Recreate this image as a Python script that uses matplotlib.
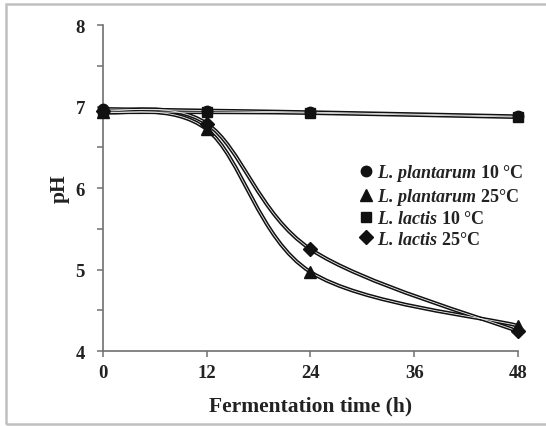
import numpy as np
import matplotlib
matplotlib.use("Agg")
import matplotlib.pyplot as plt
from matplotlib.path import Path
from matplotlib.patches import PathPatch, Rectangle
from matplotlib.lines import Line2D

plt.rcParams["font.family"] = ["Liberation Serif", "DejaVu Serif"]
plt.rcParams["mathtext.fontset"] = "custom"
plt.rcParams["mathtext.bfit"] = "Liberation Serif:italic:bold"
plt.rcParams["mathtext.it"] = "Liberation Serif:italic:bold"
plt.rcParams["mathtext.rm"] = "Liberation Serif:bold"

# fermentation time (h) and pH for each culture
hours = [0, 12, 24, 48]
plant_10 = [6.97, 6.95, 6.93, 6.88]
plant_25 = [6.93, 6.72, 4.97, 4.31]
lactis_10 = [6.93, 6.93, 6.92, 6.87]
lactis_25 = [6.95, 6.79, 5.25, 4.24]

series = [
    (plant_10, "o", r"$\mathbfit{L.}\,\mathbfit{plantarum}$ 10 °C"),
    (plant_25, "^", r"$\mathbfit{L.}\,\mathbfit{plantarum}$ 25°C"),
    (lactis_10, "s", r"$\mathbfit{L.}\,\mathbfit{lactis}$ 10 °C"),
    (lactis_25, "D", r"$\mathbfit{L.}\,\mathbfit{lactis}$ 25°C"),
]
MS = {"o": 7.5, "^": 8.5, "s": 7.5, "D": 7}


def smooth_path(x, y):
    # Excel-style smoothed line: cubic Bezier segments with Catmull-Rom tangents
    p = np.column_stack([x, y]).astype(float)
    ext = np.vstack([p[0], p, p[-1]])
    verts = [p[0]]
    codes = [Path.MOVETO]
    for i in range(len(p) - 1):
        p0, p1, p2, p3 = ext[i], ext[i + 1], ext[i + 2], ext[i + 3]
        verts += [p1 + (p2 - p0) / 6.0, p2 - (p3 - p1) / 6.0, p2]
        codes += [Path.CURVE4] * 3
    return Path(verts, codes)


fig = plt.figure(figsize=(5.46, 4.27), dpi=100)
fig.patches.append(Rectangle((0.011, 0.005), 1.2, 0.983, transform=fig.transFigure,
                             fill=False, edgecolor="#c0c0c0", lw=1.8))
ax = fig.add_axes([0.1886, 0.1756, 0.7601, 0.7635])

for vals, mk, lab in series:
    pth = smooth_path(hours, vals)
    ax.add_patch(PathPatch(pth, fill=False, edgecolor="#111111", lw=2.8, zorder=3,
                           capstyle="round"))
    ax.add_patch(PathPatch(pth, fill=False, edgecolor="#f0f0f0", lw=0.6, zorder=3.1))
    ax.plot(hours, vals, mk, color="#111111", ms=MS[mk], zorder=4, clip_on=False)

ax.set_xlim(0, 48)
ax.set_ylim(4, 8)
ax.set_xticks([0, 12, 24, 36, 48])
ax.set_yticks([4, 5, 6, 7, 8])
ax.set_yticks([4.5, 5.5, 6.5, 7.5], minor=True)
for s in ["top", "right"]:
    ax.spines[s].set_visible(False)
for s in ["left", "bottom"]:
    ax.spines[s].set_color("#707070")
    ax.spines[s].set_linewidth(1.2)
ax.tick_params(axis="both", which="both", direction="out", length=4, width=1.1,
               color="#707070", labelsize=13.5)
ax.tick_params(axis="y", pad=9)
ax.tick_params(axis="x", pad=5)
for t in ax.get_xticklabels() + ax.get_yticklabels():
    t.set_fontweight("bold")
    t.set_color("#222222")

ax.set_xlabel("Fermentation time (h)", fontsize=15.5, fontweight="bold", color="#222222",
              labelpad=11)
ax.set_ylabel("pH", fontsize=15.5, fontweight="bold", color="#222222", labelpad=4)

handles = [Line2D([], [], ls="none", marker=mk, color="#111111", ms=MS[mk])
           for _, mk, _ in series]
leg = ax.legend(handles, [s[2] for s in series], loc="upper left",
                bbox_to_anchor=(0.621, 0.58), frameon=False, handlelength=0.6,
                handletextpad=0.3, labelspacing=0.18, borderaxespad=0, borderpad=0,
                prop={"size": 13, "weight": "bold"})
for t in leg.get_texts():
    t.set_color("#222222")

fig.savefig("out.png", dpi=100)
